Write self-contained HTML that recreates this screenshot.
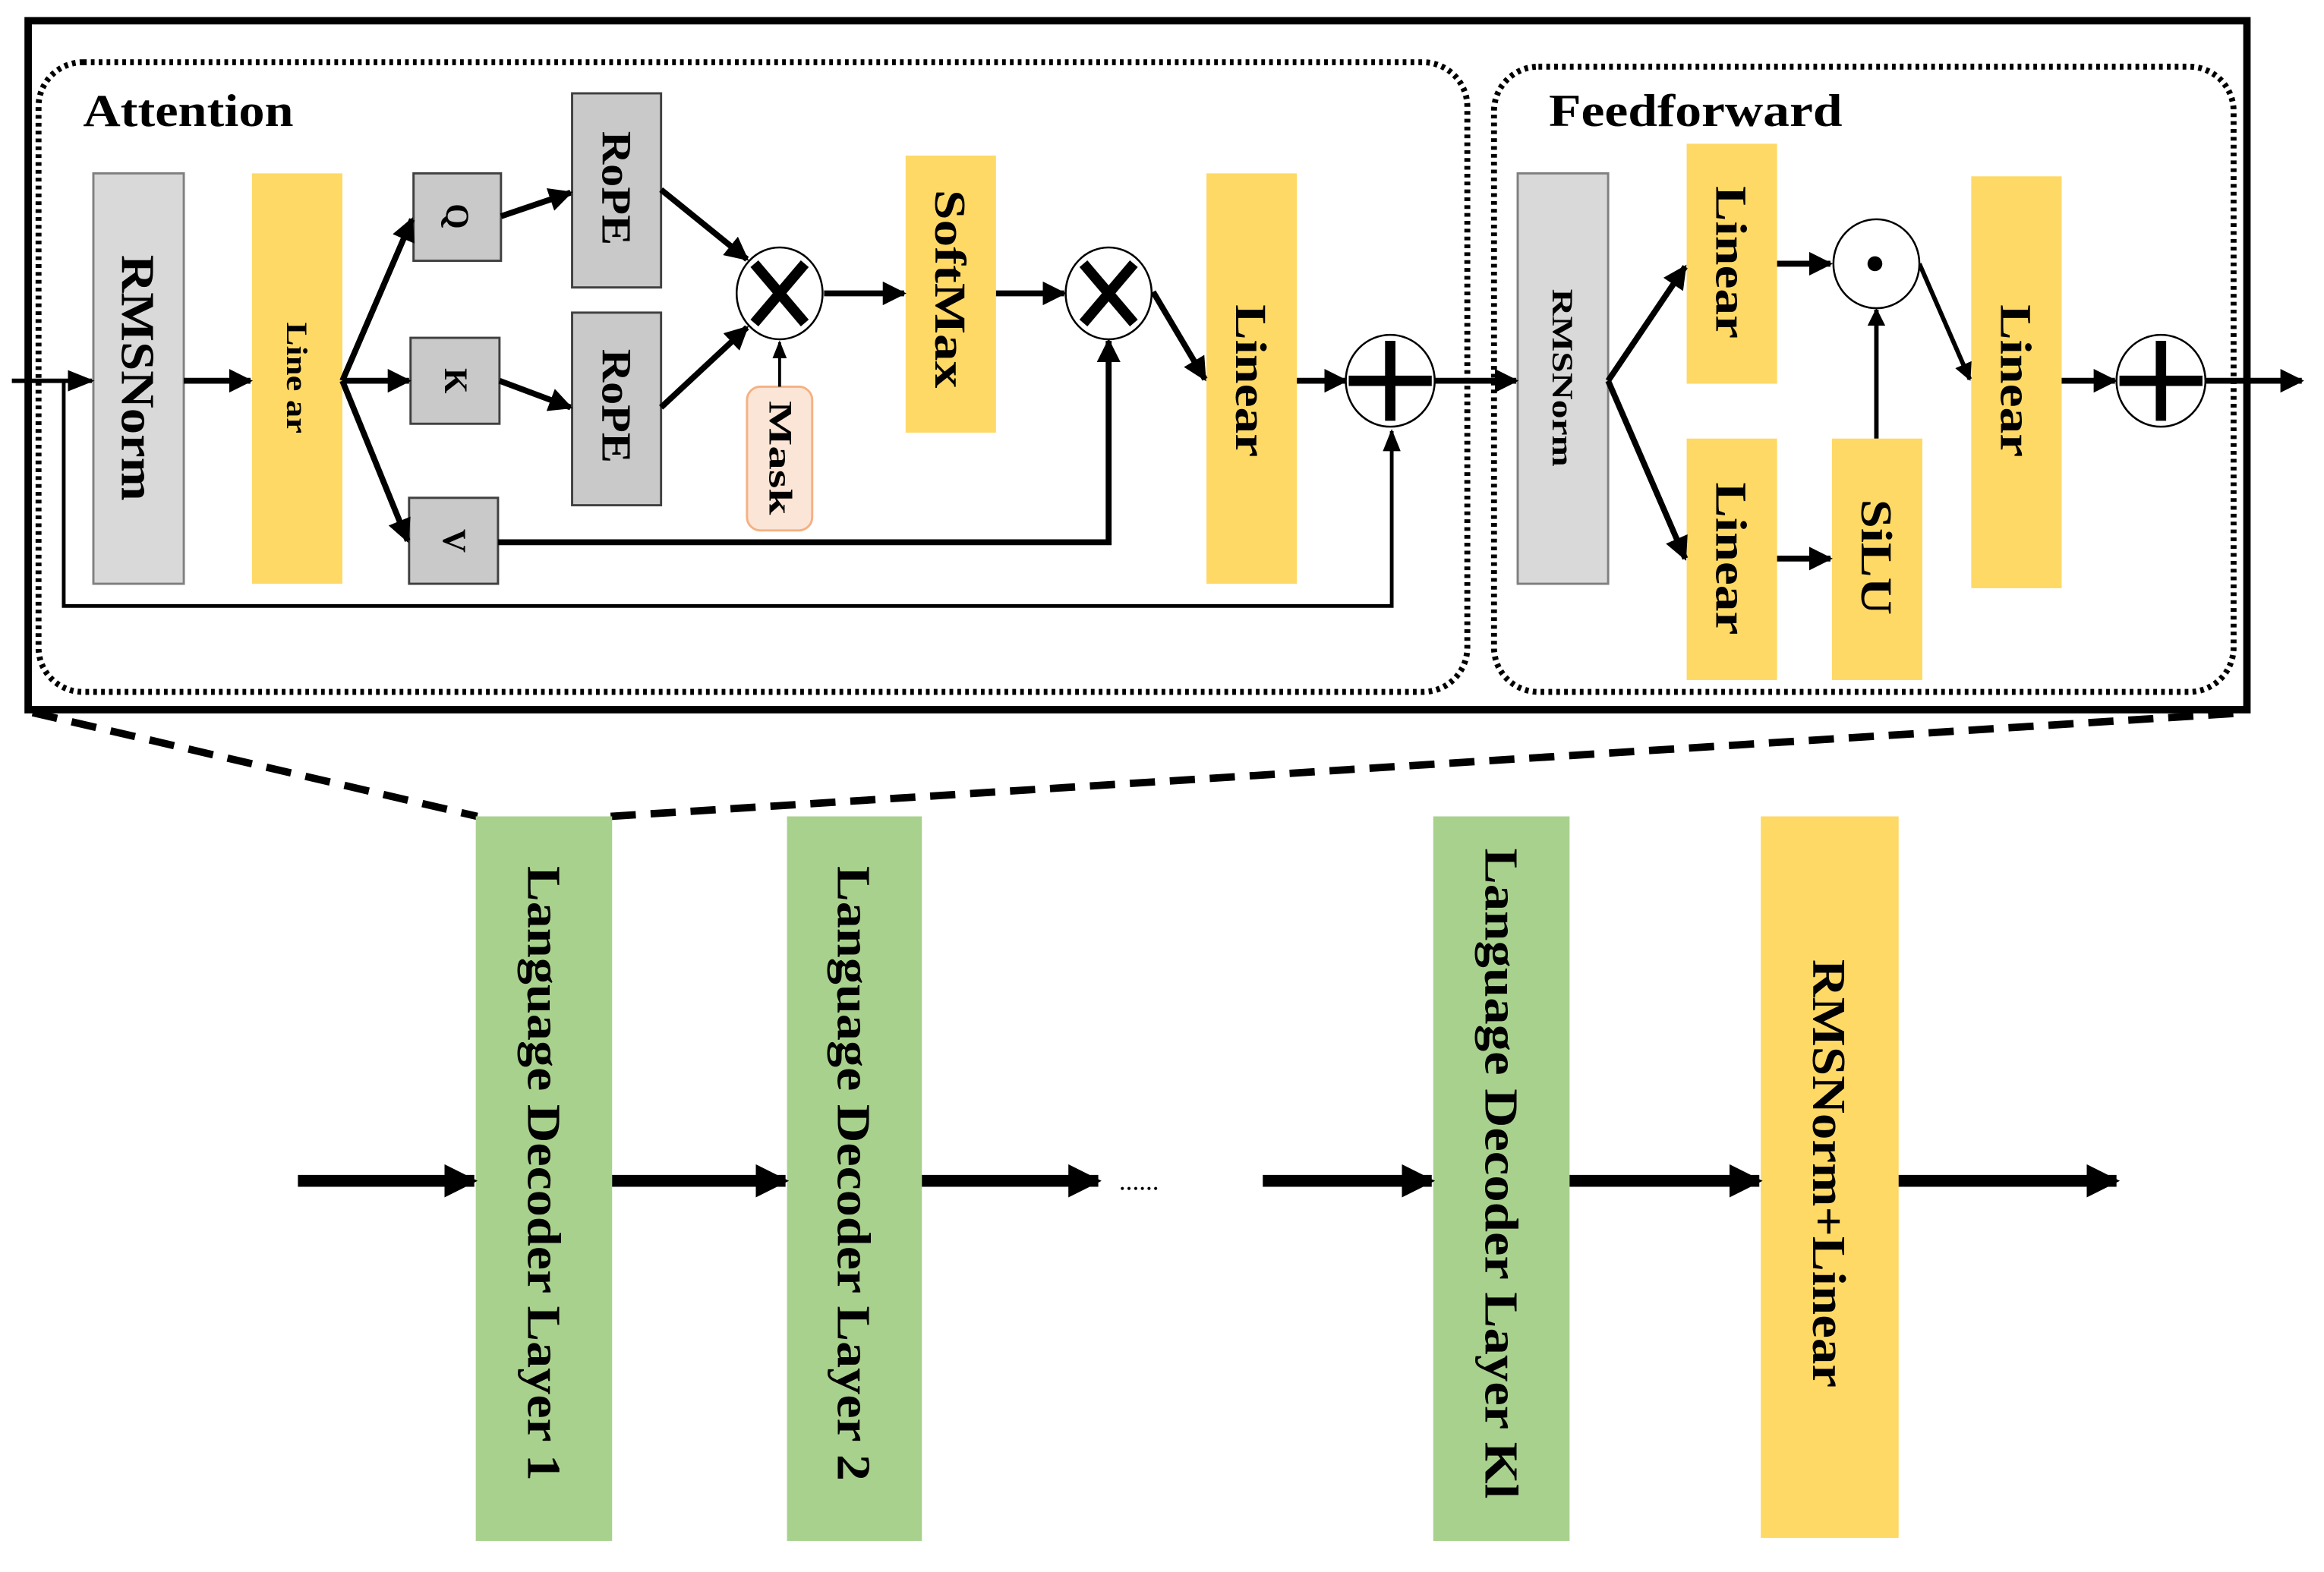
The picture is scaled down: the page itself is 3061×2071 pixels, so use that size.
<!DOCTYPE html>
<html><head><meta charset="utf-8"><style>
html,body{margin:0;padding:0;background:#fff;}
svg{display:block;}
text{font-family:"Liberation Serif",serif;font-weight:bold;fill:#000;}
</style></head><body>
<svg width="3061" height="2071" viewBox="0 0 1568 1061" preserveAspectRatio="none" xmlns="http://www.w3.org/2000/svg">
<defs>
<marker id="a" viewBox="0 0 10 10" refX="9" refY="5" markerWidth="4" markerHeight="4" orient="auto" markerUnits="strokeWidth"><path d="M0,0 L10,5 L0,10 Z" fill="#000"/></marker>
<marker id="as" viewBox="0 0 10 10" refX="9" refY="5" markerWidth="6" markerHeight="6" orient="auto" markerUnits="strokeWidth"><path d="M0,1 L10,5 L0,9 Z" fill="#000"/></marker>
<marker id="ab" viewBox="0 0 10 10" refX="9" refY="5" markerWidth="2.8" markerHeight="4.2" orient="auto" markerUnits="strokeWidth"><path d="M0,0 L10,5 L0,10 Z" fill="#000"/></marker>
</defs>
<rect width="1568" height="1061" fill="#fff"/>
<rect x="19" y="14" width="1497" height="465" fill="none" stroke="#000" stroke-width="5"/>
<rect x="26" y="42" width="964" height="425" rx="30" fill="none" stroke="#000" stroke-width="4" stroke-dasharray="2.5,2.8"/>
<rect x="1008" y="45" width="499" height="422" rx="30" fill="none" stroke="#000" stroke-width="4" stroke-dasharray="2.5,2.8"/>
<text x="56" y="85" font-size="31" textLength="142" lengthAdjust="spacingAndGlyphs">Attention</text>
<text x="1045" y="85" font-size="31" textLength="198" lengthAdjust="spacingAndGlyphs">Feedforward</text>

<rect x="63" y="117" width="61" height="277" fill="#D9D9D9" stroke="#808080" stroke-width="1.5"/>
<rect x="170" y="117" width="61" height="277" fill="#FFD966"/>
<rect x="279" y="117" width="59" height="59" fill="#C9C9C9" stroke="#404040" stroke-width="1.5"/>
<rect x="277" y="228" width="60" height="58" fill="#C9C9C9" stroke="#404040" stroke-width="1.5"/>
<rect x="276" y="336" width="60" height="58" fill="#C9C9C9" stroke="#404040" stroke-width="1.5"/>
<rect x="386" y="63" width="60" height="131" fill="#C9C9C9" stroke="#404040" stroke-width="1.5"/>
<rect x="386" y="211" width="60" height="130" fill="#C9C9C9" stroke="#404040" stroke-width="1.5"/>
<rect x="504" y="261" width="44" height="97" rx="9" fill="#FBE5D6" stroke="#F4B183" stroke-width="1.5"/>
<rect x="611" y="105" width="61" height="187" fill="#FFD966"/>
<rect x="814" y="117" width="61" height="277" fill="#FFD966"/>

<rect x="1024" y="117" width="61" height="277" fill="#D9D9D9" stroke="#808080" stroke-width="1.5"/>
<rect x="1138" y="97" width="61" height="162" fill="#FFD966"/>
<rect x="1138" y="296" width="61" height="163" fill="#FFD966"/>
<rect x="1236" y="296" width="61" height="163" fill="#FFD966"/>
<rect x="1330" y="119" width="61" height="278" fill="#FFD966"/>

<g stroke="#000" fill="none">
<line x1="8" y1="257" x2="62" y2="257" stroke-width="3" marker-end="url(#as)"/>
<polyline points="43,257 43,409 939,409 939,291" stroke-width="2.5" marker-end="url(#as)"/>
<line x1="124" y1="257" x2="169" y2="257" stroke-width="4" marker-end="url(#a)"/>
<line x1="231" y1="257" x2="278" y2="148" stroke-width="4" marker-end="url(#a)"/>
<line x1="231" y1="257" x2="276" y2="257" stroke-width="4" marker-end="url(#a)"/>
<line x1="231" y1="257" x2="275" y2="365" stroke-width="4" marker-end="url(#a)"/>
<line x1="338" y1="146" x2="385" y2="130" stroke-width="4" marker-end="url(#a)"/>
<line x1="337" y1="257" x2="385" y2="275" stroke-width="4" marker-end="url(#a)"/>
<line x1="446" y1="128" x2="504" y2="175" stroke-width="4" marker-end="url(#a)"/>
<line x1="446" y1="275" x2="504" y2="221" stroke-width="4" marker-end="url(#a)"/>
<line x1="526" y1="261" x2="526" y2="231" stroke-width="2" marker-end="url(#as)"/>
<line x1="556" y1="198" x2="610" y2="198" stroke-width="4" marker-end="url(#a)"/>
<line x1="672" y1="198" x2="718" y2="198" stroke-width="4" marker-end="url(#a)"/>
<polyline points="336,366 748,366 748,230" stroke-width="4" marker-end="url(#a)"/>
<line x1="778" y1="197" x2="813" y2="256" stroke-width="4" marker-end="url(#a)"/>
<line x1="875" y1="257" x2="908" y2="257" stroke-width="4" marker-end="url(#a)"/>
<line x1="968" y1="257" x2="1023" y2="257" stroke-width="4" marker-end="url(#a)"/>
<line x1="1085" y1="257" x2="1137" y2="180" stroke-width="4" marker-end="url(#a)"/>
<line x1="1085" y1="257" x2="1137" y2="377" stroke-width="4" marker-end="url(#a)"/>
<line x1="1199" y1="178" x2="1235" y2="178" stroke-width="4" marker-end="url(#a)"/>
<line x1="1199" y1="377" x2="1235" y2="377" stroke-width="4" marker-end="url(#a)"/>
<line x1="1266" y1="296" x2="1266" y2="209" stroke-width="3" marker-end="url(#a)"/>
<line x1="1295" y1="178" x2="1329" y2="256" stroke-width="3" marker-end="url(#a)"/>
<line x1="1391" y1="257" x2="1427" y2="257" stroke-width="4" marker-end="url(#a)"/>
<line x1="1488" y1="257" x2="1553" y2="257" stroke-width="4" marker-end="url(#a)"/>
</g>
<g fill="#fff" stroke="#000" stroke-width="1.3">
<ellipse cx="526" cy="198" rx="29" ry="31"/>
<ellipse cx="748" cy="198" rx="29" ry="31"/>
<ellipse cx="938" cy="257" rx="30" ry="31"/>
<ellipse cx="1266" cy="178" rx="29" ry="30"/>
<ellipse cx="1458" cy="257" rx="30" ry="31"/>
</g>
<g stroke="#000" stroke-width="7">
<line x1="509" y1="178" x2="543" y2="218"/><line x1="543" y1="178" x2="509" y2="218"/>
<line x1="731" y1="178" x2="765" y2="218"/><line x1="765" y1="178" x2="731" y2="218"/>
<line x1="910" y1="257" x2="966" y2="257"/><line x1="938" y1="230" x2="938" y2="284"/>
<line x1="1430" y1="257" x2="1486" y2="257"/><line x1="1458" y1="230" x2="1458" y2="284"/>
</g>
<circle cx="1265" cy="178" r="5" fill="#000"/>

<g text-anchor="middle" dominant-baseline="central">
<text transform="translate(93,255) rotate(90)" font-size="32" textLength="166" lengthAdjust="spacingAndGlyphs">RMSNorm</text>
<text transform="translate(200,255) rotate(90)" font-size="20" textLength="75" lengthAdjust="spacingAndGlyphs">Line ar</text>
<text transform="translate(308,146) rotate(90)" font-size="22">Q</text>
<text transform="translate(307,257) rotate(90)" font-size="22">K</text>
<text transform="translate(306,365) rotate(90)" font-size="22">V</text>
<text transform="translate(416,127) rotate(90)" font-size="28" textLength="77" lengthAdjust="spacingAndGlyphs">RoPE</text>
<text transform="translate(416,274) rotate(90)" font-size="28" textLength="77" lengthAdjust="spacingAndGlyphs">RoPE</text>
<text transform="translate(526,309) rotate(90)" font-size="22" textLength="77" lengthAdjust="spacingAndGlyphs">Mask</text>
<text transform="translate(641,195) rotate(90)" font-size="30" textLength="134" lengthAdjust="spacingAndGlyphs">SoftMax</text>
<text transform="translate(844,257) rotate(90)" font-size="30" textLength="103" lengthAdjust="spacingAndGlyphs">Linear</text>
<text transform="translate(1054,255) rotate(90)" font-size="20" textLength="120" lengthAdjust="spacingAndGlyphs">RMSNorm</text>
<text transform="translate(1168,177) rotate(90)" font-size="30" textLength="103" lengthAdjust="spacingAndGlyphs">Linear</text>
<text transform="translate(1168,377) rotate(90)" font-size="30" textLength="103" lengthAdjust="spacingAndGlyphs">Linear</text>
<text transform="translate(1266,376) rotate(90)" font-size="30" textLength="78" lengthAdjust="spacingAndGlyphs">SiLU</text>
<text transform="translate(1360,257) rotate(90)" font-size="30" textLength="103" lengthAdjust="spacingAndGlyphs">Linear</text>
</g>

<g stroke="#000" stroke-width="5" stroke-dasharray="17,10" fill="none">
<line x1="22" y1="481" x2="322" y2="551"/>
<line x1="412" y1="551" x2="1516" y2="481"/>
</g>

<rect x="321" y="551" width="92" height="489" fill="#A9D18E"/>
<rect x="531" y="551" width="91" height="489" fill="#A9D18E"/>
<rect x="967" y="551" width="92" height="489" fill="#A9D18E"/>
<rect x="1188" y="551" width="93" height="487" fill="#FFD966"/>
<g stroke="#000" stroke-width="8" fill="none">
<line x1="201" y1="797" x2="320" y2="797" marker-end="url(#ab)"/>
<line x1="413" y1="797" x2="530" y2="797" marker-end="url(#ab)"/>
<line x1="622" y1="797" x2="741" y2="797" marker-end="url(#ab)"/>
<line x1="852" y1="797" x2="966" y2="797" marker-end="url(#ab)"/>
<line x1="1059" y1="797" x2="1187" y2="797" marker-end="url(#ab)"/>
<line x1="1281" y1="797" x2="1428" y2="797" marker-end="url(#ab)"/>
</g>
<text x="755" y="803" font-size="18" style="font-weight:normal">......</text>
<g text-anchor="middle" dominant-baseline="central">
<text transform="translate(367,792) rotate(90)" font-size="32" textLength="415" lengthAdjust="spacingAndGlyphs">Language Decoder Layer 1</text>
<text transform="translate(576,792) rotate(90)" font-size="32" textLength="415" lengthAdjust="spacingAndGlyphs">Language Decoder Layer 2</text>
<text transform="translate(1013,792) rotate(90)" font-size="32" textLength="439" lengthAdjust="spacingAndGlyphs">Language Decoder Layer Kl</text>
<text transform="translate(1234,792) rotate(90)" font-size="32" textLength="289" lengthAdjust="spacingAndGlyphs">RMSNorm+Linear</text>
</g>
</svg>
</body></html>
